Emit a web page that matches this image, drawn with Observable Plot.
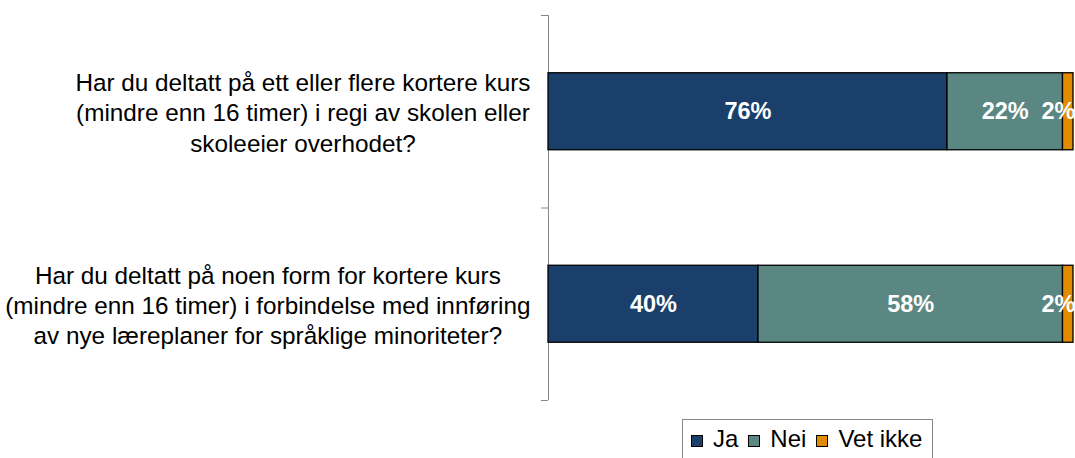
<!DOCTYPE html>
<html>
<head>
<meta charset="utf-8">
<script src="https://cdn.jsdelivr.net/npm/d3@7"></script>
<script src="https://cdn.jsdelivr.net/npm/@observablehq/plot@0.6"></script>
<style>
  body { margin: 0; background: #fff; font-family: "Liberation Sans", Arial, sans-serif; }
  #chart svg { display: block; }
  #legend { margin-left: 682px; display: inline-flex; gap: 10px; border: 1px solid #888;
            padding: 7px 10px 8px 8px; font: 24px "Liberation Sans", Arial, sans-serif;
            line-height: 24px; color: #000; }
  #legend .sw { display: inline-block; width: 10px; height: 10px; border: 1px solid #000;
                margin-right: 10px; vertical-align: baseline; }
</style>
</head>
<body>
<div id="chart"></div>
<div id="legend"></div>
<script>
const questions = [
  "Har du deltatt på ett eller flere kortere kurs\n(mindre enn 16 timer) i regi av skolen eller\nskoleeier overhodet?",
  "Har du deltatt på noen form for kortere kurs\n(mindre enn 16 timer) i forbindelse med innføring\nav nye læreplaner for språklige minoriteter?"
];
const categories = ["Ja", "Nei", "Vet ikke"];
const ja = [76, 40];
const nei = [22, 58];
const vetIkke = [2, 2];
const colors = ["#1b3f6b", "#5b8782", "#e08b00"];

const series = [ja, nei, vetIkke];
const rows = [];
questions.forEach((q, i) => {
  let x0 = 0;
  categories.forEach((c, k) => {
    const v = series[k][i];
    rows.push({i, cat: c, value: v, x1: x0, x2: x0 + v});
    x0 += v;
  });
});

const qFont = 24.3;
const ctx = document.createElement("canvas").getContext("2d");
ctx.font = qFont + "px 'Liberation Sans'";
const qMarks = questions.map((q, i) => {
  const maxW = d3.max(q.split("\n"), l => ctx.measureText(l).width);
  return Plot.text([q], {
    x: () => 0, y: () => i + 0.5, text: d => d,
    textAnchor: "middle", dx: -18 - maxW / 2,
    fontSize: qFont, lineHeight: 1.24, fill: "#000"
  });
});

const big = rows.filter(d => d.value >= 5);
const small = rows.filter(d => d.value < 5);

const plot = Plot.plot({
  width: 1075,
  height: 419,
  marginLeft: 548,
  marginRight: 2,
  marginTop: 15,
  marginBottom: 19,
  style: {fontFamily: "'Liberation Sans', Arial, sans-serif", background: "#fff"},
  x: {domain: [0, 100], axis: null},
  y: {domain: [0, 2], reverse: true, axis: null},
  color: {domain: categories, range: colors},
  marks: [
    Plot.ruleX([0], {y1: 0, y2: 2, stroke: "#888", strokeWidth: 1}),
    Plot.axisY({ticks: [0, 1, 2], tickFormat: () => "", tickSize: 7, stroke: "#888", label: null}),
    Plot.rect(rows, {x1: "x1", x2: "x2", y1: d => d.i + 0.3, y2: d => d.i + 0.7,
      fill: "cat", stroke: "#000", strokeWidth: 1.3}),
    Plot.text(big, {x: d => (d.x1 + d.x2) / 2, y: d => d.i + 0.5, text: d => d.value + "%",
      fill: "#fff", fontWeight: "bold", fontSize: 23.5}),
    Plot.text(small, {x: 100, y: d => d.i + 0.5, text: d => d.value + "%",
      fill: "#fff", fontWeight: "bold", fontSize: 23.5, textAnchor: "end", dx: 2}),
    ...qMarks
  ]
});
document.getElementById("chart").appendChild(plot);

const legend = document.getElementById("legend");
categories.forEach((c, k) => {
  const item = document.createElement("span");
  const sw = document.createElement("span");
  sw.className = "sw";
  sw.style.background = colors[k];
  item.appendChild(sw);
  item.appendChild(document.createTextNode(c));
  legend.appendChild(item);
});
</script>
</body>
</html>
